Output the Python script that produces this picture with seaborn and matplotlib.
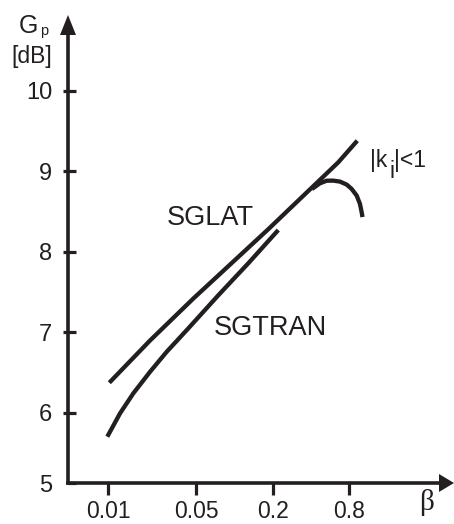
import matplotlib
matplotlib.use("Agg")
import matplotlib.pyplot as plt
from matplotlib.patches import Polygon
from matplotlib.ticker import FixedLocator
import pandas as pd
import seaborn as sns

# Power gain G_p [dB] versus beta for the two structures
beta_sglat = [0.01024, 0.0215, 0.0472, 0.1845, 0.659, 0.931]
gp_sglat = [6.376, 6.90, 7.42, 8.28, 9.11, 9.378]

beta_sgtran = [0.00987, 0.01245, 0.01585, 0.0215, 0.0291, 0.0431, 0.0743, 0.1282, 0.2213]
gp_sgtran = [5.706, 5.996, 6.244, 6.512, 6.760, 7.05, 7.46, 7.857, 8.27]

# branch that leaves SGLAT once |k_i| < 1
beta_ki = [0.408, 0.4725, 0.534, 0.602, 0.680, 0.768, 0.841, 0.922, 0.978, 1.009, 1.024]
gp_ki = [8.779, 8.850, 8.882, 8.883, 8.871, 8.834, 8.780, 8.697, 8.594, 8.490, 8.431]

x_ticks = [0.01, 0.05, 0.2, 0.8]
x_tick_labels = ["0.01", "0.05", "0.2", "0.8"]
y_ticks = [6, 7, 8, 9, 10]
y_tick_labels = ["6", "7", "8", "9", "10"]
y_origin_label = "5"

W, H = 454, 524
INK = "#231f20"

sns.set_style("white")
plt.rcParams["font.family"] = ["Liberation Sans", "DejaVu Sans"]

fig = plt.figure(figsize=(W / 100, H / 100), dpi=100)
ax = fig.add_axes([68 / W, (H - 483) / H, (W - 68) / W, (483 - 15) / H])

curves = pd.concat([
    pd.DataFrame({"beta": beta_sglat, "gp": gp_sglat, "curve": "SGLAT"}),
    pd.DataFrame({"beta": beta_sgtran, "gp": gp_sgtran, "curve": "SGTRAN"}),
    pd.DataFrame({"beta": beta_ki, "gp": gp_ki, "curve": "ki"}),
])
for name, sub in curves.groupby("curve", sort=False):
    sns.lineplot(data=sub, x="beta", y="gp", ax=ax, color=INK, lw=3.1,
                 estimator=None, sort=False, legend=False,
                 solid_capstyle="butt", solid_joinstyle="round")

ax.set_xscale("log")
x_lo, x_hi = 0.00483, 5.41
y_lo, y_hi = 5.1315, 10.938
ax.set_xlim(x_lo, x_hi)
ax.set_ylim(y_lo, y_hi)
ax.set_xlabel("")
ax.set_ylabel("")

# axes drawn as arrows
for side in ("top", "right"):
    ax.spines[side].set_visible(False)
for side in ("left", "bottom"):
    ax.spines[side].set_linewidth(2.6)
    ax.spines[side].set_color(INK)
    ax.spines[side].set_capstyle("projecting")
ax.spines["left"].set_bounds(y_lo, 10.72)
ax.spines["bottom"].set_bounds(x_lo, 4.5)

aw, ah = W - 68, 483 - 15
ax.add_patch(Polygon([(0, 1), (-8 / aw, 1 - 20 / ah), (8 / aw, 1 - 20 / ah)],
                     closed=True, transform=ax.transAxes, clip_on=False,
                     color=INK, lw=0))
ax.add_patch(Polygon([(1, 0), (1 - 15 / aw, 9 / ah), (1 - 15 / aw, -9 / ah)],
                     closed=True, transform=ax.transAxes, clip_on=False,
                     color=INK, lw=0))

# ticks
ax.xaxis.set_minor_locator(FixedLocator([]))
ax.set_xticks(x_ticks, x_tick_labels)
ax.tick_params(axis="x", which="major", bottom=True, direction="out",
               length=8.6, width=2.3, color=INK, labelsize=16.5, pad=3.5,
               labelcolor=INK)

ax.set_yticks([y_lo] + y_ticks, [y_origin_label] + y_tick_labels)
ax.yaxis.set_minor_locator(FixedLocator(y_ticks))
ax.yaxis.remove_overlapping_locs = False
ax.tick_params(axis="y", which="major", left=True, direction="in",
               length=6.0, width=2.3, color=INK, labelsize=17, pad=11.5,
               labelcolor=INK)
ax.tick_params(axis="y", which="minor", left=True, direction="out",
               length=3.6, width=2.3, color=INK, labelleft=False)


def at(x, y):
    return x / W, 1 - y / H


# labels
fig.text(*at(18.4, 33.3), "G", fontsize=18, color=INK, va="baseline")
fig.text(*at(40.3, 35.0), "p", fontsize=10.5, color=INK, va="baseline")
fig.text(*at(11.7, 63.3), "[dB]", fontsize=16.5, color=INK, va="baseline")
fig.text(*at(426.7, 510), "β", fontsize=21, color=INK, va="baseline",
         ha="center", family=["Liberation Serif", "DejaVu Serif"])

fig.text(*at(167, 225), "SGLAT", fontsize=19.5, color=INK, va="baseline")
fig.text(*at(214, 335), "SGTRAN", fontsize=19.5, color=INK, va="baseline")
fig.text(*at(369.5, 167), "|k", fontsize=16.5, color=INK, va="baseline")
fig.text(*at(389.8, 178), "i", fontsize=16.5, color=INK, va="baseline")
fig.text(*at(394.5, 166.7), "|<1", fontsize=16.5, color=INK, va="baseline")

fig.savefig("out.png", dpi=100, facecolor="white")
